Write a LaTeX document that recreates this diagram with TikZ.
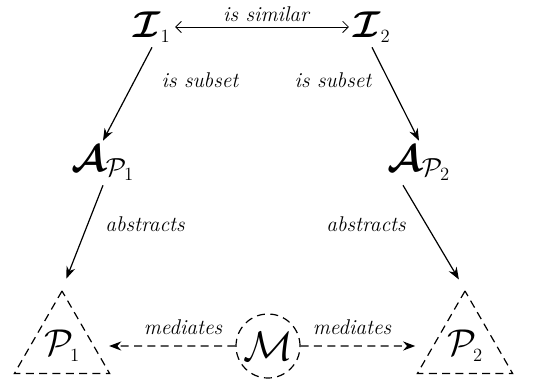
\RequirePackage{fix-cm}
\documentclass[tikz,border=0pt]{standalone}
\usepackage{amsmath}
\usetikzlibrary{arrows.meta,shapes.geometric}

\begin{document}
\begin{tikzpicture}[
  x=0.75pt,y=-0.75pt,
  font=\fontsize{28}{32}\selectfont,
  arr/.style={-{Stealth[length=3.2mm,width=2.4mm]},line width=0.9pt},
  dasharr/.style={arr,dash pattern=on 6pt off 4pt},
  simarr/.style={{Straight Barb[length=1.5mm,width=3mm]}-{Straight Barb[length=1.5mm,width=3mm]},line width=0.6pt},
  lbl/.style={font=\fontsize{16}{19}\selectfont\itshape},
  proto/.style={draw,dash pattern=on 6pt off 4pt,line width=0.9pt,
    regular polygon,regular polygon sides=3,minimum size=82.5pt,inner sep=0pt},
  medcirc/.style={draw,circle,dash pattern=on 6pt off 4pt,line width=0.9pt,
    minimum size=48pt,inner sep=0pt}]

% canvas in reference pixels (534 x 381), y pointing down
\useasboundingbox (0,0) rectangle (534,381);

% ---- instances ----
\node (I1) at (152,27) {$\boldsymbol{\mathcal{I}}_{\scriptscriptstyle 1}$};
\node (I2) at (372,27) {$\boldsymbol{\mathcal{I}}_{\scriptscriptstyle 2}$};
\draw[simarr] (I1) -- (I2);
\node[lbl] (simlbl) at (266,14) {is similar};

% ---- abstractions ----
\node (AP1) at (103,163) {$\boldsymbol{\mathcal{A}}_{\mathcal{P}_1}$};
\node (AP2) at (419,163) {$\boldsymbol{\mathcal{A}}_{\mathcal{P}_2}$};
\draw[arr] (I1.south) -- (AP1.north);
\draw[arr] (I2.south) -- (AP2.north);
\node[lbl] (sub1) at (200,80) {is subset};
\node[lbl] (sub2) at (333,80) {is subset};

% ---- prototypes + mediator ----
\node[proto] (P1) at (62,346) {$\mathcal{P}_{\scriptscriptstyle 1}$};
\node[proto] (P2) at (465,346) {$\mathcal{P}_{\scriptscriptstyle 2}$};
\node[medcirc] (M) at (268,346) {\fontsize{31}{35}\selectfont$\mathcal{M}$};
\draw[arr,shorten >=9pt] (AP1.south) -- (P1.north);
\draw[arr,shorten >=9pt] ([xshift=-12pt]AP2.south) -- (P2.north);
\node[lbl] (abs1) at (145,224) {abstracts};
\node[lbl] (abs2) at (366,224) {abstracts};
\draw[dasharr,shorten >=11pt] (M) -- (P1);
\draw[dasharr,shorten >=13pt] (M) -- (P2);
\node[lbl] (med1) at (183,327) {mediates};
\node[lbl] (med2) at (352,327) {mediates};
\end{tikzpicture}
\end{document}
